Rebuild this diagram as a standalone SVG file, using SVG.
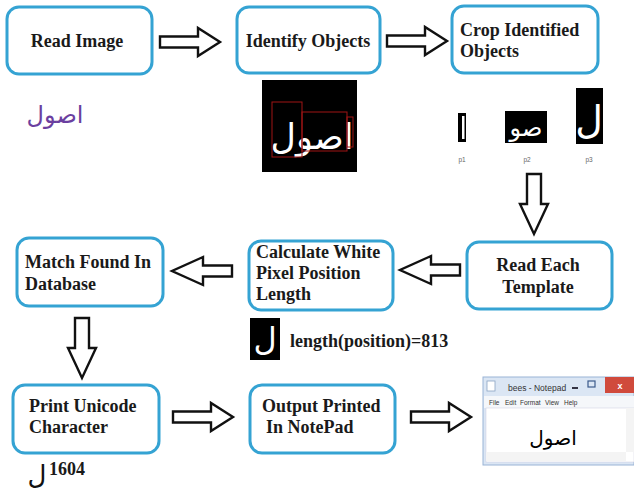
<svg xmlns="http://www.w3.org/2000/svg" xmlns:xlink="http://www.w3.org/1999/xlink" width="634" height="493" viewBox="0 0 634 493">
<style>
.box{fill:#fff;stroke:#35a3d3;stroke-width:3}
.t{font-family:"Liberation Serif","Times New Roman",serif;font-weight:bold;font-size:18px;fill:#1a1a1a}
.c{text-anchor:middle}
.arr{fill:#fff;stroke:#111;stroke-width:2.4;stroke-linejoin:miter}
.ar{font-family:"DejaVu Sans",sans-serif;text-anchor:middle}
.rb{fill:none;stroke:#a01515;stroke-width:1}
.sm{font-family:"Liberation Sans",Arial,sans-serif;font-size:6.5px;fill:#666;text-anchor:middle}
.np{font-family:"Liberation Sans",Arial,sans-serif;fill:#333}
</style>
<defs>
<path id="aR" d="M0,8.5 H38 V0 L60,14 L38,28 V19.5 H0 Z"/>
<path id="aL" d="M60,8.5 H31 V0 L0,14 L31,28 V19.5 H60 Z"/>
<path id="aD" d="M7,0 H21 V30 H28 L14,60 L0,30 H7 Z"/>
</defs>
<rect width="634" height="493" fill="#fff"/>

<g id="connectors">
<use xlink:href="#aR" class="arr" x="160" y="28"/>
<use xlink:href="#aR" class="arr" x="387" y="27"/>
<use xlink:href="#aD" class="arr" x="520" y="174"/>
<use xlink:href="#aL" class="arr" x="400" y="256"/>
<use xlink:href="#aL" class="arr" x="172" y="257"/>
<use xlink:href="#aD" class="arr" x="68" y="318"/>
<use xlink:href="#aR" class="arr" x="173" y="403"/>
<use xlink:href="#aR" class="arr" x="411" y="403"/>
</g>

<g id="read-image">
<rect class="box" x="7" y="7" width="145" height="67" rx="12"/>
<text class="t c" x="77" y="47">Read Image</text>
</g>
<g id="identify-objects">
<rect class="box" x="237" y="7" width="143" height="66" rx="12"/>
<text class="t c" x="308" y="47">Identify Objects</text>
</g>
<g id="crop-objects">
<rect class="box" x="452" y="6" width="146" height="67" rx="12"/>
<text class="t" x="460" y="36">Crop Identified</text>
<text class="t" x="460" y="57">Objects</text>
</g>
<g id="read-template">
<rect class="box" x="467" y="242" width="145" height="67" rx="12"/>
<text class="t c" x="538" y="271">Read Each</text>
<text class="t c" x="538" y="293">Template</text>
</g>
<g id="calculate">
<rect class="box" x="249" y="241" width="144" height="69" rx="12"/>
<text class="t" x="256" y="258">Calculate White</text>
<text class="t" x="256" y="279">Pixel Position</text>
<text class="t" x="256" y="300">Length</text>
</g>
<g id="match">
<rect class="box" x="17" y="238" width="146" height="68" rx="12"/>
<text class="t" x="25" y="268">Match Found In</text>
<text class="t" x="25" y="290">Database</text>
</g>
<g id="print-unicode">
<rect class="box" x="13" y="385" width="146" height="68" rx="12"/>
<text class="t" x="29" y="412">Print Unicode</text>
<text class="t" x="29" y="433">Character</text>
</g>
<g id="output-notepad">
<rect class="box" x="250" y="385" width="145" height="68" rx="12"/>
<text class="t" x="262" y="412">Output Printed</text>
<text class="t" x="266" y="433">In NotePad</text>
</g>

<g id="input-word">
<text class="ar" x="55" y="123" font-size="24" fill="#6b3fa0">اصول</text>
</g>

<g id="identified-image">
<rect x="262" y="80" width="95" height="92" fill="#000"/>
<text class="ar" x="312" y="149" font-size="35" fill="#fff">اصول</text>
<rect class="rb" x="272" y="102" width="30" height="55"/>
<rect class="rb" x="302" y="112" width="45" height="39"/>
<rect class="rb" x="347" y="117" width="6" height="30"/>
</g>

<g id="crops">
<rect x="458" y="113" width="8" height="29" fill="#000"/>
<rect x="462" y="116" width="2.5" height="23" fill="#fff"/>
<text class="sm" x="462" y="162">p1</text>
<rect x="505" y="111" width="42" height="32" fill="#000"/>
<text class="ar" x="526" y="136" font-size="24" fill="#fff">صو</text>
<text class="sm" x="527" y="162">p2</text>
<rect x="576" y="88" width="27" height="56" fill="#000"/>
<text class="ar" x="589" y="133" font-size="38" fill="#fff">ل</text>
<text class="sm" x="589" y="162">p3</text>
</g>

<g id="length-result">
<rect x="250" y="318" width="30" height="42" fill="#000"/>
<text class="ar" x="265" y="350" font-size="32" fill="#fff">ل</text>
<text class="t" x="290" y="347">length(position)=813</text>
</g>

<g id="unicode-result">
<text class="ar" x="37" y="484" font-size="26" fill="#111">ل</text>
<text class="t" x="49" y="475">1604</text>
</g>

<g id="notepad">
<rect x="483" y="377" width="151" height="88" fill="#dbe6f4" stroke="#9ab4d6" stroke-width="1"/>
<rect x="487" y="381" width="8" height="10" fill="#fff" stroke="#8aa3c4" stroke-width="0.8"/>
<text class="np" x="508" y="391" font-size="8.5">bees - Notepad</text>
<rect x="572" y="387" width="6" height="2" fill="#334"/>
<rect x="588" y="381" width="7" height="6" fill="none" stroke="#3b5a8a" stroke-width="1.2"/>
<rect x="605" y="377" width="29" height="16" fill="#d04a3c"/>
<text x="620" y="389" font-family="Liberation Sans,Arial,sans-serif" font-size="9" fill="#fff" text-anchor="middle" font-weight="bold">x</text>
<rect x="484" y="396" width="150" height="12" fill="#f5f7fa"/>
<text class="np" y="405" font-size="6.5"><tspan x="489">File</tspan><tspan x="505">Edit</tspan><tspan x="520">Format</tspan><tspan x="545">View</tspan><tspan x="564">Help</tspan></text>
<rect x="486" y="408" width="148" height="54" fill="#fff" stroke="#ccd" stroke-width="0.5"/>
<rect x="486" y="452" width="140" height="9" fill="#f4f4f4"/>
<rect x="626" y="408" width="8" height="44" fill="#f4f4f4"/>
<text class="ar" x="553" y="445" font-size="20" fill="#000">اصول</text>
</g>
</svg>
